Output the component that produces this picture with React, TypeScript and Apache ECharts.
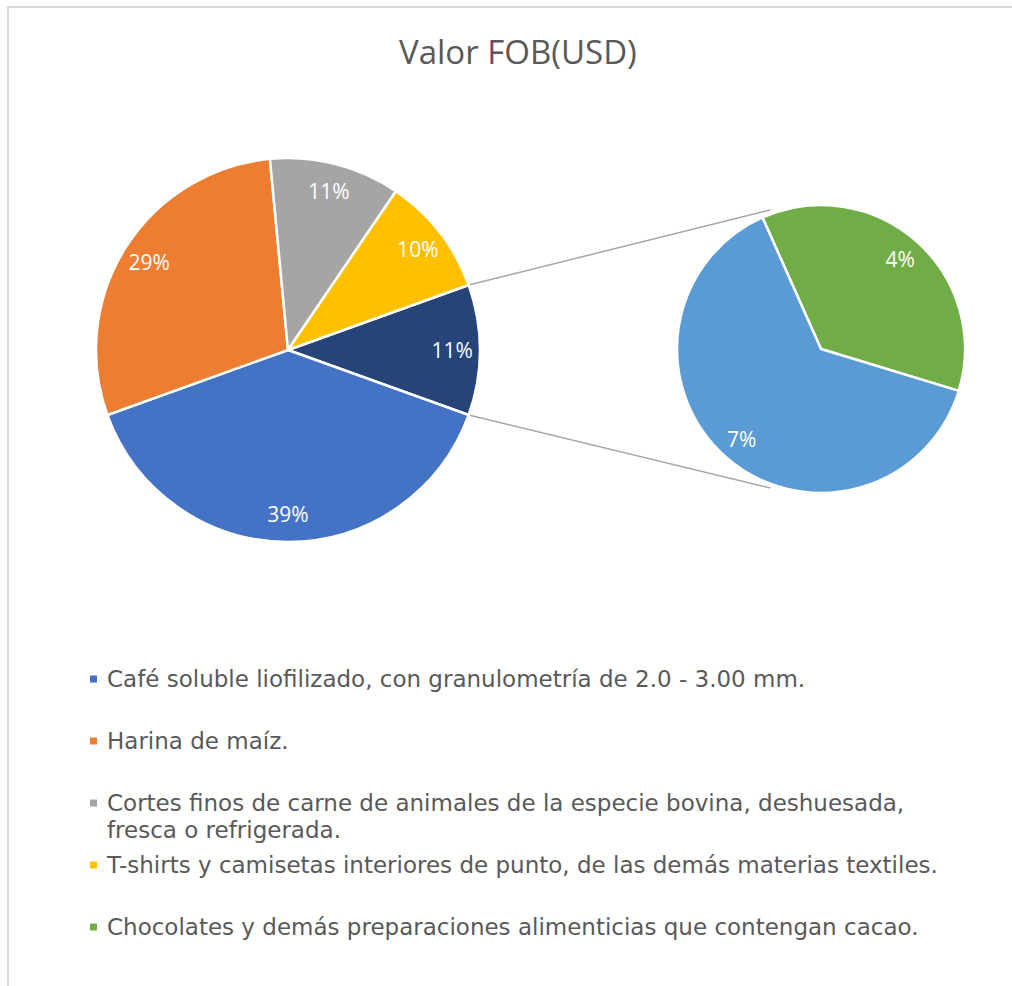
import React, { useEffect, useRef } from "react";
import * as echarts from "echarts";

// ---- data ----
const titleText = "Valor FOB(USD)";
const primaryCategories = [
  "Café soluble liofilizado, con granulometría de 2.0 - 3.00 mm.",
  "Harina de maíz.",
  "Cortes finos de carne de animales de la especie bovina, deshuesada, fresca o refrigerada.",
  "T-shirts y camisetas interiores de punto, de las demás materias textiles.",
];
const primaryValues = [39, 29, 11, 10];
const secondaryCategories = [
  "Chocolates y demás preparaciones alimenticias que contengan cacao.",
  "Otros productos",
];
const secondaryValues = [4, 7];
const otherName = "Otros";
const legendNames = [
  "Café soluble liofilizado, con granulometría de 2.0 - 3.00 mm.",
  "Harina de maíz.",
  "Cortes finos de carne de animales de la especie bovina, deshuesada,\nfresca o refrigerada.",
  "T-shirts y camisetas interiores de punto, de las demás materias textiles.",
  "Chocolates y demás preparaciones alimenticias que contengan cacao.",
];

// ---- styles ----
const primaryColors = ["#4472C4", "#ED7D31", "#A5A5A5", "#FFC000"];
const otherColor = "#264478";
const secondaryColors = ["#70AD47", "#5B9BD5"];
const legendColors = ["#4472C4", "#ED7D31", "#A5A5A5", "#FFC000", "#70AD47"];

const W = 1012;
const H = 986;
const C1 = [288, 350];
const R1 = 192;
const C2 = [821, 349];
const R2 = 144;
const SECOND_START = 114;

export default function App() {
  const ref = useRef<HTMLDivElement>(null);
  useEffect(() => {
    if (!ref.current) return;
    const chart = echarts.init(ref.current, undefined, { renderer: "svg" });
    const otherValue = secondaryValues.reduce((a, b) => a + b, 0);
    const total = primaryValues.reduce((a, b) => a + b, 0) + otherValue;
    const halfOther = (otherValue / total) * 180;

    const mainData = [
      { name: otherName, value: otherValue, itemStyle: { color: otherColor } },
      ...primaryCategories.map((n, i) => ({
        name: n,
        value: primaryValues[i],
        itemStyle: { color: primaryColors[i] },
      })),
    ];
    const secData = secondaryCategories.map((n, i) => ({
      name: n,
      value: secondaryValues[i],
      itemStyle: { color: secondaryColors[i] },
    }));

    const rad = (d: number) => (d * Math.PI) / 180;
    const p1a = [C1[0] + R1 * Math.cos(rad(halfOther)), C1[1] - R1 * Math.sin(rad(halfOther))];
    const p1b = [C1[0] + R1 * Math.cos(rad(halfOther)), C1[1] + R1 * Math.sin(rad(halfOther))];
    const conAng = 110;
    const p2a = [C2[0] + (R2 + 4) * Math.cos(rad(conAng)), C2[1] - (R2 + 4) * Math.sin(rad(conAng))];
    const p2b = [C2[0] + (R2 + 4) * Math.cos(rad(conAng)), C2[1] + (R2 + 4) * Math.sin(rad(conAng))];

    const labelFont = {
      show: true,
      position: "inside",
      color: "#ffffff",
      fontSize: 21,
      fontFamily: "Open Sans",
      formatter: (p: any) => `${p.value}%`,
    };

    const legendGraphics: any[] = [];
    legendNames.forEach((n, i) => {
      const y = 679 + i * 62;
      legendGraphics.push({
        type: "rect",
        shape: { x: 90, y: y - 3.5, width: 7, height: 7 },
        style: { fill: legendColors[i] },
      });
      legendGraphics.push({
        type: "text",
        x: 107,
        y: y - 14,
        style: {
          text: n,
          fill: "#595959",
          font: "23px 'DejaVu Sans'",
          verticalAlign: "top",
          lineHeight: 27,
        },
      });
    });

    chart.setOption({
      animation: false,
      backgroundColor: "#ffffff",
      title: {
        text: titleText,
        left: 394,
        top: 30,
        textStyle: {
          fontSize: 33,
          fontWeight: "normal",
          color: "#595959",
          fontFamily: "Open Sans",
        },
      },
      graphic: [
        {
          type: "rect",
          shape: { x: 8, y: 7, width: 1200, height: 1200 },
          style: { fill: "none", stroke: "#d9d9d9", lineWidth: 2 },
        },
        {
          type: "line",
          shape: { x1: p1a[0], y1: p1a[1], x2: p2a[0], y2: p2a[1] },
          style: { stroke: "#a6a6a6", lineWidth: 1.5 },
        },
        {
          type: "line",
          shape: { x1: p1b[0], y1: p1b[1], x2: p2b[0], y2: p2b[1] },
          style: { stroke: "#a6a6a6", lineWidth: 1.5 },
        },
        ...legendGraphics,
      ],
      series: [
        {
          type: "pie",
          center: C1,
          radius: R1,
          startAngle: halfOther,
          clockwise: true,
          data: mainData,
          label: { show: false },
          labelLine: { show: false },
          itemStyle: { borderColor: "#ffffff", borderWidth: 2.5 },
          emphasis: { disabled: true },
        },
        {
          type: "pie",
          center: C1,
          radius: [R1 * 0.68, R1],
          startAngle: halfOther,
          clockwise: true,
          silent: true,
          data: mainData.map((d) => ({ name: d.name, value: d.value })),
          itemStyle: { color: "rgba(0,0,0,0)" },
          label: labelFont,
          labelLine: { show: false },
        },
        {
          type: "pie",
          center: C2,
          radius: R2,
          startAngle: SECOND_START,
          clockwise: true,
          data: secData,
          label: { show: false },
          labelLine: { show: false },
          itemStyle: { borderColor: "#ffffff", borderWidth: 2.5 },
          emphasis: { disabled: true },
        },
        {
          type: "pie",
          center: C2,
          radius: [R2 * 0.62, R2],
          startAngle: SECOND_START,
          clockwise: true,
          silent: true,
          data: secData.map((d) => ({ name: d.name, value: d.value })),
          itemStyle: { color: "rgba(0,0,0,0)" },
          label: labelFont,
          labelLine: { show: false },
        },
      ],
    });
    return () => chart.dispose();
  }, []);
  return (
    <div
      ref={ref}
      style={{ position: "fixed", left: 0, top: 0, width: W, height: H }}
    />
  );
}
